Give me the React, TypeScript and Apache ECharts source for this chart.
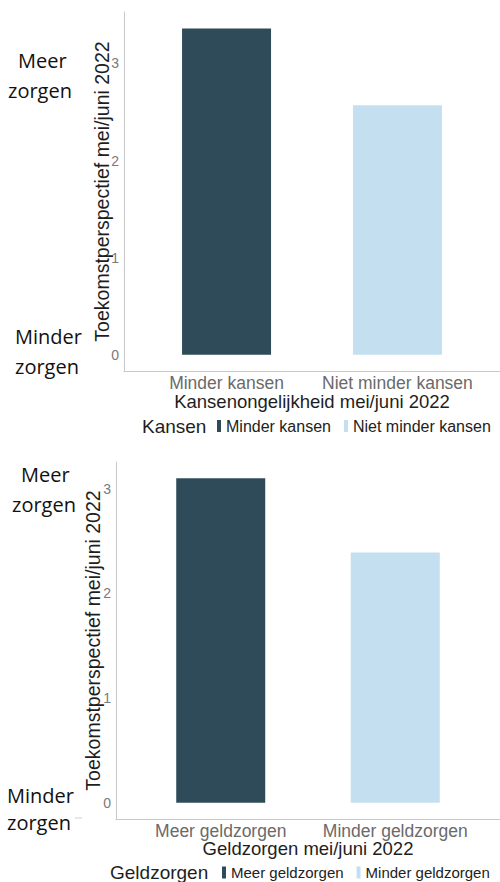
import React, { useEffect, useRef } from "react";
import * as echarts from "echarts";

const kansenCategories = ["Minder kansen", "Niet minder kansen"];
const kansenValues = [3.36, 2.57];
const geldCategories = ["Meer geldzorgen", "Minder geldzorgen"];
const geldValues = [3.1, 2.39];
const yTickValues = [0, 1, 2, 3];
const yAxisTitle = "Toekomstperspectief mei/juni 2022";
const xTitle1 = "Kansenongelijkheid mei/juni 2022";
const xTitle2 = "Geldzorgen mei/juni 2022";
const legendTitle1 = "Kansen";
const legendTitle2 = "Geldzorgen";
const colors = ["#2f4b5a", "#c4dff0"];

const SANS = "'Liberation Sans', Arial, sans-serif";
const ANNOT = "'Open Sans', 'Noto Sans', sans-serif";

function xFormatter(cats: string[]) {
  return (v: number) => {
    for (let i = 0; i < cats.length; i++) {
      if (Math.abs(v - (i + 1)) < 1e-6) return cats[i];
    }
    return "";
  };
}
function yFormatter(v: number) {
  for (const t of yTickValues) {
    if (Math.abs(v - t) < 1e-6) return String(t);
  }
  return "";
}

export default function App() {
  const ref = useRef<HTMLDivElement>(null);
  useEffect(() => {
    document.body.style.margin = "0";
    if (!ref.current) return;
    const chart = echarts.init(ref.current, undefined, { renderer: "svg" });
    const axisLine = { show: true, lineStyle: { color: "#c8c8c8", width: 1 } };
    const xAxisCommon = (cats: string[], title: string, gridIndex: number, gap: number) => ({
      type: "value" as const,
      gridIndex,
      min: 0.4,
      max: 2.6,
      axisLine: { ...axisLine, onZero: false },
      axisTick: { show: false },
      splitLine: { show: false },
      axisLabel: {
        formatter: xFormatter(cats),
        color: "#6a6a6a",
        fontSize: 17.5,
        lineHeight: 17,
        fontFamily: SANS,
        margin: 3,
        showMinLabel: false,
        showMaxLabel: false,
      },
      name: title,
      nameLocation: "middle" as const,
      nameGap: gap,
      nameMoveOverlap: false,
      nameTextStyle: { color: "#1e1e1e", fontSize: 18.5, lineHeight: 19, fontFamily: SANS },
    });
    const yAxisCommon = (min: number, max: number, gridIndex: number, gap: number) => ({
      type: "value" as const,
      gridIndex,
      min,
      max,
      axisLine,
      axisTick: { show: false },
      splitLine: { show: false },
      axisLabel: {
        formatter: yFormatter,
        color: "#7a7a7a",
        fontSize: 14,
        fontFamily: SANS,
        margin: 5,
        showMinLabel: false,
        showMaxLabel: false,
      },
      name: yAxisTitle,
      nameLocation: "middle" as const,
      nameGap: gap,
      nameMoveOverlap: false,
      nameTextStyle: { color: "#1e1e1e", fontSize: 19.5, fontFamily: SANS },
    });
    const barSeries = (name: string, x: number, v: number, color: string, axisIndex: number) => ({
      type: "bar" as const,
      name,
      xAxisIndex: axisIndex,
      yAxisIndex: axisIndex,
      barWidth: 89,
      barGap: "-100%",
      itemStyle: { color },
      data: [[x, v]],
    });
    const annot = (text: string, x: number, y: number) => ({
      type: "text" as const,
      x,
      y,
      style: {
        text,
        fill: "#111",
        fontSize: 20,
        fontFamily: ANNOT,
        align: "left",
        verticalAlign: "middle",
      },
    });
    const legendCommon = {
      icon: "rect",
      itemWidth: 4,
      itemHeight: 12,
      itemGap: 13,
      padding: 0,
      width: 300,
      selectedMode: false as const,
    };
    chart.setOption({
      animation: false,
      backgroundColor: "#fff",
      grid: [
        { left: 124, top: 12, width: 392, height: 359, containLabel: false },
        { left: 116, top: 462, width: 391, height: 357, containLabel: false },
      ],
      xAxis: [
        xAxisCommon(kansenCategories, xTitle1, 0, 21),
        xAxisCommon(geldCategories, xTitle2, 1, 20),
      ],
      yAxis: [yAxisCommon(-0.168, 3.53, 0, 12), yAxisCommon(-0.155, 3.255, 1, 13)],
      legend: [
        {
          ...legendCommon,
          left: 217,
          top: 418,
          data: kansenCategories,
          textStyle: { color: "#222", fontSize: 16, fontFamily: SANS },
        },
        {
          ...legendCommon,
          left: 222,
          top: 865,
          data: geldCategories,
          textStyle: { color: "#222", fontSize: 15, fontFamily: SANS },
        },
      ],
      series: [
        barSeries(kansenCategories[0], 1, kansenValues[0], colors[0], 0),
        barSeries(kansenCategories[1], 2, kansenValues[1], colors[1], 0),
        barSeries(geldCategories[0], 1, geldValues[0], colors[0], 1),
        barSeries(geldCategories[1], 2, geldValues[1], colors[1], 1),
      ],
      graphic: [
        annot("Meer", 18, 60),
        annot("zorgen", 8, 90),
        annot("Minder", 15, 336),
        annot("zorgen", 15, 366),
        annot("Meer", 21, 474),
        annot("zorgen", 12, 504),
        annot("Minder", 7, 795),
        annot("zorgen", 7, 822),
        {
          type: "line",
          shape: { x1: 75, y1: 818, x2: 82, y2: 818 },
          style: { stroke: "#d0d0d0", lineWidth: 1 },
        },
        {
          type: "text",
          x: 142,
          y: 426,
          style: {
            text: legendTitle1,
            fill: "#1e1e1e",
            fontSize: 19,
            fontFamily: SANS,
            align: "left",
            verticalAlign: "middle",
          },
        },
        {
          type: "text",
          x: 110,
          y: 872,
          style: {
            text: legendTitle2,
            fill: "#1e1e1e",
            fontSize: 19,
            fontFamily: SANS,
            align: "left",
            verticalAlign: "middle",
          },
        },
      ],
    });
    return () => chart.dispose();
  }, []);
  return <div ref={ref} style={{ width: 500, height: 882 }} />;
}
